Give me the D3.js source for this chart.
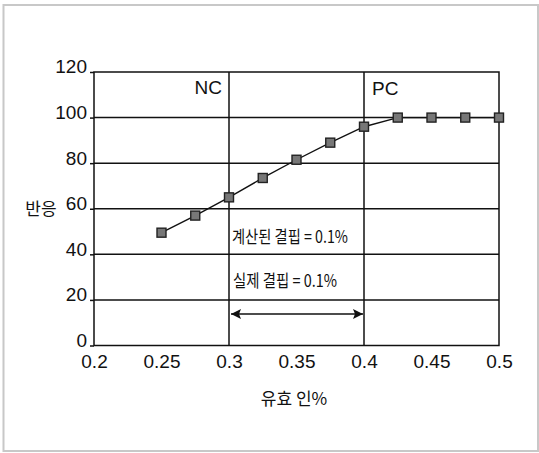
<!DOCTYPE html>
<html><head><meta charset="utf-8">
<script src="https://cdn.jsdelivr.net/npm/d3@7"></script>
<style>
body{margin:0;background:#fff;}
svg{display:block;}
</style></head>
<body>
<svg id="c" width="539" height="453"></svg>
<script>
const xValues = [0.25, 0.275, 0.3, 0.325, 0.35, 0.375, 0.4, 0.425, 0.45, 0.475, 0.5];
const yValues = [49.5, 57, 65, 73.5, 81.5, 89, 96, 100, 100, 100, 100];
const xTicks = [0.2, 0.25, 0.3, 0.35, 0.4, 0.45, 0.5];
const yTicks = [0, 20, 40, 60, 80, 100, 120];
const ncX = 0.3, pcX = 0.4;
const labels = {x: "유효 인%", y: "반응", nc: "NC", pc: "PC",
  calc: "계산된 결핍 = 0.1%", real: "실제 결핍 = 0.1%"};

const svg = d3.select("#c");
const L = 94, R = 499, T = 72, B = 345.5;
const x = d3.scaleLinear().domain([0.2, 0.5]).range([L, R]);
const y = d3.scaleLinear().domain([0, 120]).range([B, T]);
const font = "'Liberation Sans', Arial, sans-serif";
const kfont = "'Noto Sans CJK KR', sans-serif";
const ink = "#111";

// outer frame
svg.append("rect").attr("x", 3.5).attr("y", 5).attr("width", 534.5).attr("height", 446)
  .attr("fill", "none").attr("stroke", "#c8c8c8").attr("stroke-width", 2);

// gridlines
svg.append("g").selectAll("line").data(yTicks.filter(d => d > 0 && d < 120)).join("line")
  .attr("x1", L).attr("x2", R).attr("y1", d => y(d)).attr("y2", d => y(d))
  .attr("stroke", ink).attr("stroke-width", 1.5);
svg.append("g").selectAll("line").data([ncX, pcX]).join("line")
  .attr("x1", d => x(d)).attr("x2", d => x(d)).attr("y1", T).attr("y2", B)
  .attr("stroke", ink).attr("stroke-width", 1.5);
// plot frame
svg.append("rect").attr("x", L).attr("y", T).attr("width", R - L).attr("height", B - T)
  .attr("fill", "none").attr("stroke", ink).attr("stroke-width", 1.5);

// axes
const xAxis = svg.append("g").attr("transform", `translate(0,${B})`)
  .call(d3.axisBottom(x).tickValues(xTicks).tickSize(0).tickPadding(9).tickFormat(d => String(d)));
const yAxis = svg.append("g").attr("transform", `translate(${L},0)`)
  .call(d3.axisLeft(y).tickValues(yTicks).tickSize(4).tickPadding(3).tickFormat(d => String(d)));
[xAxis, yAxis].forEach(a => {
  a.select(".domain").remove();
  a.selectAll("text").attr("font-family", font).attr("font-size", 19).attr("fill", ink);
  a.selectAll("line").attr("stroke", ink).attr("stroke-width", 1.5);
});
yAxis.selectAll("text").attr("dy", "0.05em");

// line & markers
const pts = xValues.map((v, i) => [v, yValues[i]]);
svg.append("path").datum(pts)
  .attr("d", d3.line().x(d => x(d[0])).y(d => y(d[1])))
  .attr("fill", "none").attr("stroke", ink).attr("stroke-width", 1.4);
svg.append("g").selectAll("rect").data(pts).join("rect")
  .attr("x", d => x(d[0]) - 4.5).attr("y", d => y(d[1]) - 4.5)
  .attr("width", 9).attr("height", 9)
  .attr("fill", "#777").attr("stroke", "#222").attr("stroke-width", 1.4);

// NC / PC labels
svg.append("text").attr("x", x(ncX) - 7).attr("y", 94).attr("text-anchor", "end")
  .attr("font-family", font).attr("font-size", 19).attr("fill", ink).text(labels.nc);
svg.append("text").attr("x", x(pcX) + 8).attr("y", 95)
  .attr("font-family", font).attr("font-size", 19).attr("fill", ink).text(labels.pc);

// annotations
svg.append("text").attr("x", x(ncX) + 3).attr("y", 243)
  .attr("font-family", kfont).attr("font-size", 17)
  .attr("textLength", 116).attr("lengthAdjust", "spacingAndGlyphs")
  .attr("fill", ink).text(labels.calc);
svg.append("text").attr("x", x(ncX) + 4).attr("y", 287)
  .attr("font-family", kfont).attr("font-size", 17)
  .attr("textLength", 104).attr("lengthAdjust", "spacingAndGlyphs")
  .attr("fill", ink).text(labels.real);

// arrow
const defs = svg.append("defs");
defs.append("marker").attr("id", "ah").attr("viewBox", "0 0 10 10").attr("refX", 10).attr("refY", 5)
  .attr("markerWidth", 10).attr("markerHeight", 10).attr("markerUnits", "userSpaceOnUse")
  .attr("orient", "auto-start-reverse")
  .append("path").attr("d", "M0,0 L10,5 L0,10 L2,5 Z").attr("fill", ink);
svg.append("line").attr("x1", x(ncX) + 2).attr("x2", x(pcX) - 1).attr("y1", 314).attr("y2", 314)
  .attr("stroke", ink).attr("stroke-width", 1.5)
  .attr("marker-start", "url(#ah)").attr("marker-end", "url(#ah)");

// axis titles
svg.append("text").attr("x", 294).attr("y", 405).attr("text-anchor", "middle")
  .attr("font-family", kfont).attr("font-size", 17).attr("fill", ink).text(labels.x);
svg.append("text").attr("x", 41).attr("y", 215).attr("text-anchor", "middle")
  .attr("font-family", kfont).attr("font-size", 17).attr("fill", ink).text(labels.y);
</script>
</body></html>
